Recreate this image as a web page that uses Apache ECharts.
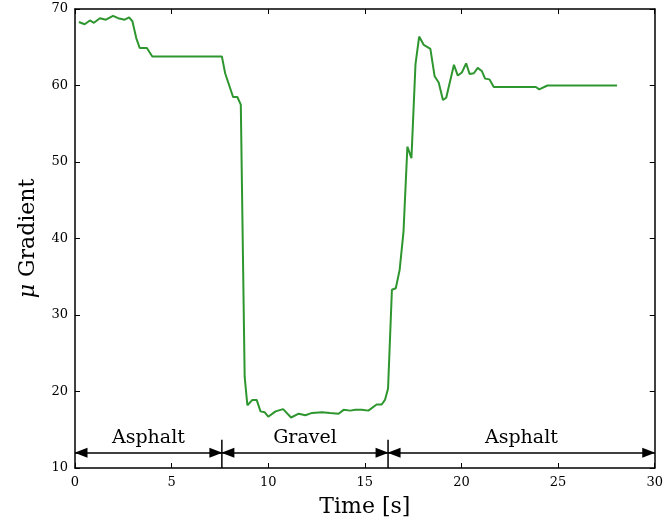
<!DOCTYPE html>
<html>
<head>
<meta charset="utf-8">
<script src="https://cdn.jsdelivr.net/npm/echarts@6/dist/echarts.min.js"></script>
<style>
  html, body { margin: 0; padding: 0; background: #fff; }
  #main { width: 666px; height: 529px; }
</style>
</head>
<body>
<div id="main"></div>
<script>
var chart = echarts.init(document.getElementById('main'));

// measured signal
var time = [0.2, 0.5, 0.77, 0.98, 1.29, 1.6, 1.97, 2.23, 2.57, 2.8, 2.97, 3.17, 3.35, 3.72, 4.0,
	7.6, 7.77, 8.18, 8.4, 8.58, 8.78, 8.92, 9.18, 9.4, 9.6, 9.81, 10.0, 10.38, 10.77, 11.18,
	11.58, 11.92, 12.27, 12.78, 13.2, 13.64, 13.9, 14.24, 14.5, 14.84, 15.18, 15.61, 15.87, 16.04,
	16.2, 16.4, 16.6, 16.8, 17.0, 17.2, 17.41, 17.62, 17.81, 18.05, 18.39, 18.61, 18.82, 19.04,
	19.21, 19.61, 19.81, 20.02, 20.24, 20.42, 20.64, 20.84, 21.05, 21.22, 21.45, 21.67, 23.85,
	24.02, 24.45, 28.05];
var mu = [68.3, 68.0, 68.5, 68.2, 68.8, 68.6, 69.1, 68.8, 68.6, 68.9, 68.4, 66.2, 64.9, 64.9, 63.8,
	63.8, 61.6, 58.5, 58.5, 57.5, 21.9, 18.2, 18.9, 18.9, 17.4, 17.3, 16.7, 17.4, 17.7, 16.6,
	17.1, 16.9, 17.2, 17.3, 17.2, 17.1, 17.6, 17.5, 17.6, 17.6, 17.5, 18.3, 18.3, 18.9,
	20.4, 33.3, 33.5, 35.9, 40.9, 52.0, 50.5, 62.8, 66.4, 65.3, 64.8, 61.2, 60.4, 58.1,
	58.4, 62.7, 61.3, 61.7, 62.9, 61.5, 61.6, 62.3, 61.9, 60.9, 60.8, 59.8, 59.8,
	59.5, 60.0, 60.0];

// surface segments
var segNames = ['Asphalt', 'Gravel', 'Asphalt'];
var segBounds = [0, 7.6, 16.2, 30];
var arrowY = 12;
var labelY = 13.9;
var dividerTop = 13.7;

var xTicks = [0, 5, 10, 15, 20, 25, 30];
var yTicks = [10, 20, 30, 40, 50, 60, 70];

var font = 'DejaVu Serif';

var lineData = [];
for (var i = 0; i < time.length; i++) {
	lineData.push([time[i], mu[i]]);
}

var arrows = [], labels = [];
for (var k = 0; k < segNames.length; k++) {
	arrows.push([{ coord: [segBounds[k], arrowY] }, { coord: [segBounds[k + 1], arrowY] }]);
	labels.push({
		value: [(segBounds[k] + segBounds[k + 1]) / 2, labelY],
		name: segNames[k]
	});
}

var series = [{
	type: 'line',
	data: lineData,
	showSymbol: false,
	symbol: 'none',
	lineStyle: { color: '#2e962e', width: 2 },
	z: 3,
	markLine: {
		silent: true,
		symbol: ['triangle', 'triangle'],
		symbolSize: [10, 13],
		symbolOffset: [[0, 6], [0, 6]], // pull heads back so tips sit on the ends
		label: { show: false },
		lineStyle: { color: '#000', width: 1.5, type: 'solid' },
		data: arrows
	}
}, {
	type: 'scatter',
	data: labels,
	symbolSize: 0,
	itemStyle: { opacity: 1 },
	label: {
		show: true,
		position: 'inside',
		formatter: '{b}',
		fontFamily: font,
		fontSize: 19,
		color: '#000'
	},
	silent: true
}];

// vertical dividers between segments
for (var d = 1; d < segBounds.length - 1; d++) {
	series.push({
		type: 'line',
		data: [[segBounds[d], 10], [segBounds[d], dividerTop]],
		symbol: 'none',
		lineStyle: { color: '#000', width: 1.5 },
		silent: true
	});
}

var baseAxis = {
	type: 'value',
	axisLine: { show: true, onZero: false, lineStyle: { color: '#000', width: 1.5 } },
	axisTick: { show: true, inside: true, length: 5, lineStyle: { color: '#000', width: 1 } },
	splitLine: { show: false }
};

var option = {
	animation: false,
	grid: { left: 75, right: 8, top: 9, bottom: 61, containLabel: false },
	xAxis: [
		Object.assign({}, baseAxis, {
			min: xTicks[0], max: xTicks[xTicks.length - 1], interval: 5,
			position: 'bottom',
			name: 'Time [s]',
			nameLocation: 'middle',
			nameGap: 28,
			nameTextStyle: { fontFamily: font, fontSize: 22, color: '#000' },
			axisLabel: { fontFamily: font, fontSize: 13, color: '#000', margin: 8 }
		}),
		Object.assign({}, baseAxis, {
			min: xTicks[0], max: xTicks[xTicks.length - 1], interval: 5,
			position: 'top',
			axisLabel: { show: false }
		})
	],
	yAxis: [
		Object.assign({}, baseAxis, {
			min: yTicks[0], max: yTicks[yTicks.length - 1], interval: 10,
			position: 'left',
			name: '{i|μ} Gradient',
			nameLocation: 'middle',
			nameRotate: 90,
			nameGap: 36,
			nameTextStyle: {
				fontFamily: font, fontSize: 22, color: '#000',
				rich: { i: { fontFamily: font, fontStyle: 'italic', fontSize: 22, color: '#000' } }
			},
			axisLabel: { fontFamily: font, fontSize: 13, color: '#000', margin: 7 }
		}),
		Object.assign({}, baseAxis, {
			min: yTicks[0], max: yTicks[yTicks.length - 1], interval: 10,
			position: 'right',
			axisLabel: { show: false }
		})
	],
	series: series
};
chart.setOption(option);
</script>
</body>
</html>
